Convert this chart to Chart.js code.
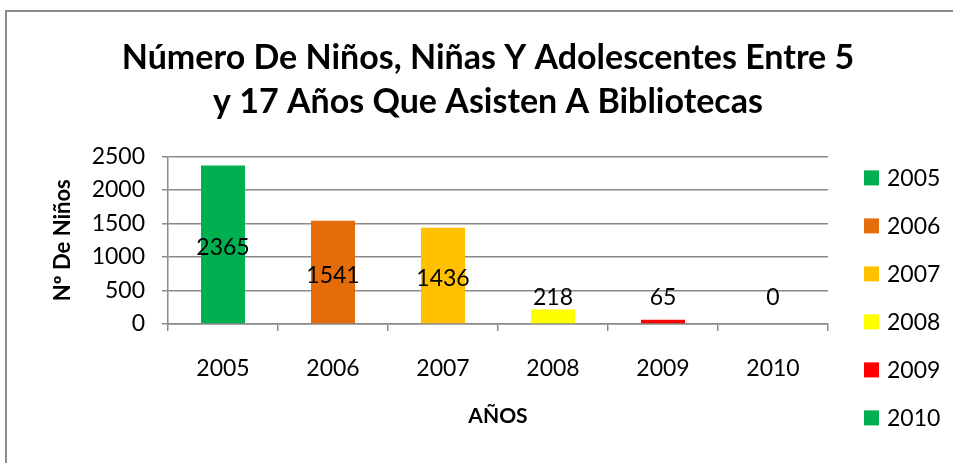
<!DOCTYPE html>
<html>
<head>
<meta charset="utf-8">
<script src="https://cdn.jsdelivr.net/npm/chart.js@4.4.1/dist/chart.umd.min.js"></script>
<style>
  html, body { margin: 0; padding: 0; background: #fff; overflow: hidden; }
  body { width: 953px; height: 463px; position: relative; }
  .marco { position: absolute; left: 5px; top: 10px; width: 1000px; height: 500px; border: 2px solid #8c8c8c; box-sizing: border-box; }
  .chart-wrapper { position: absolute; left: 0; top: 0; width: 976px; height: 463px; }
</style>
</head>
<body>
<div class="marco"></div>
<div class="chart-wrapper"><canvas id="grafico" width="976" height="463"></canvas></div>
<script>
// Datos del gráfico
const anios   = ['2005', '2006', '2007', '2008', '2009', '2010'];
const ninos   = [2365, 1541, 1436, 218, 65, 0];
const colores = ['#00B050', '#E46C0A', '#FFC000', '#FFFF00', '#FF0000', '#00B050'];
const titulo  = ['Número De Niños, Niñas Y Adolescentes Entre 5', 'y 17 Años Que Asisten A Bibliotecas'];
const tituloY = 'Nº De Niños';
const tituloX = 'AÑOS';

const fuente = 'Lato, "Open Sans", sans-serif';

// Etiquetas de valor dentro de cada barra
const etiquetas = {
  id: 'etiquetas',
  afterDatasetsDraw(chart) {
    const { ctx } = chart;
    const meta = chart.getDatasetMeta(0);
    const base = chart.scales.y.getPixelForValue(0);
    ctx.save();
    ctx.font = '23px ' + fuente;
    ctx.fillStyle = '#000';
    ctx.textAlign = 'center';
    ctx.textBaseline = 'middle';
    meta.data.forEach((bar, i) => {
      const centro = (bar.y + base) / 2 + 3;
      ctx.fillText(String(ninos[i]), bar.x, Math.min(centro, base - 26));
    });
    ctx.restore();
  }
};

// Leyenda a la derecha, una entrada por año
const leyenda = {
  id: 'leyenda',
  afterDraw(chart) {
    const { ctx, chartArea } = chart;
    const x = chartArea.right + 36;
    let y = chartArea.top + 21;
    ctx.save();
    ctx.font = '23px ' + fuente;
    ctx.textBaseline = 'middle';
    ctx.textAlign = 'left';
    chart.data.labels.forEach((lab, i) => {
      ctx.fillStyle = chart.data.datasets[0].backgroundColor[i];
      ctx.fillRect(x, y - 7, 15, 15);
      ctx.fillStyle = '#000';
      ctx.fillText(lab, x + 23, y + 1);
      y += 48;
    });
    ctx.restore();
  }
};

const grafico = new Chart(document.getElementById('grafico'), {
  type: 'bar',
  data: {
    labels: anios,
    datasets: [{
      label: tituloY,
      data: ninos,
      backgroundColor: colores,
      categoryPercentage: 1,
      barPercentage: 0.4
    }]
  },
  options: {
    responsive: false,
    animation: false,
    layout: { padding: 0 },
    plugins: {
      legend: { display: false },
      tooltip: { enabled: false },
      title: {
        display: true,
        text: titulo,
        color: '#000',
        font: { family: fuente, size: 34, weight: 'bold', lineHeight: 1.3 },
        padding: { top: 36, bottom: 32 }
      }
    },
    scales: {
      x: {
        afterFit(scale) { scale.height = 139; },
        grid: { offset: true, drawOnChartArea: false, color: '#8a8a8a', lineWidth: 1.5, tickLength: 7 },
        border: { color: '#8a8a8a', width: 1.5 },
        ticks: { color: '#000', font: { family: fuente, size: 23 }, padding: 24 },
        title: {
          display: true, text: tituloX, color: '#000',
          font: { family: fuente, size: 21, weight: 'bold' },
          padding: { top: 0, bottom: 34 }
        }
      },
      y: {
        min: 0,
        max: 2500,
        afterFit(scale) { scale.width = 168; },
        grid: { color: '#8a8a8a', lineWidth: 1.5, tickLength: 6 },
        border: { color: '#8a8a8a', width: 1.5 },
        ticks: { stepSize: 500, color: '#000', font: { family: fuente, size: 23 }, padding: 17,
                 callback: v => String(v) },
        title: {
          display: true, text: tituloY, color: '#000',
          font: { family: fuente, size: 22, weight: 'bold' },
          padding: { top: 50, bottom: 0 }
        }
      },
      // espacio reservado para la leyenda de la derecha
      espacio: {
        type: 'linear',
        position: 'right',
        afterFit(scale) { scale.width = 148; },
        grid: { display: false },
        border: { display: false },
        ticks: { display: false }
      }
    }
  },
  plugins: [etiquetas, leyenda]
});
</script>
</body>
</html>
